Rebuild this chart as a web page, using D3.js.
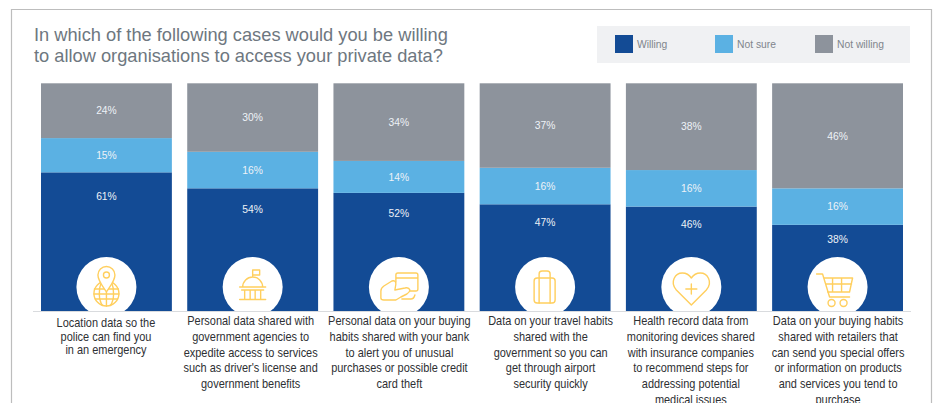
<!DOCTYPE html>
<html>
<head>
<meta charset="utf-8">
<script src="https://cdn.jsdelivr.net/npm/d3@7"></script>
<style>
  html, body { margin: 0; padding: 0; background: #fff; overflow: hidden; }
  svg { display: block; }
  .title { font-family: "Liberation Sans", Arial, sans-serif; font-size: 18.25px; fill: #6e7780; }
  .legend-label { font-family: "Liberation Sans", Arial, sans-serif; font-size: 10.3px; fill: #7f858c; }
  .value { font-family: "Liberation Sans", Arial, sans-serif; font-size: 10.3px; fill: #eef2f7; text-anchor: middle; }
  .caption { font-family: "Liberation Sans", sans-serif; font-size: 12.9px; fill: #2e3033; text-anchor: middle; }
  .icon { fill: none; stroke: #ffcf5e; stroke-width: 1.4; stroke-linejoin: round; stroke-linecap: round; }
</style>
</head>
<body>
<div id="chart"></div>
<script>
'use strict';

const titleLines = [
  'In which of the following cases would you be willing',
  'to allow organisations to access your private data?'
];
const seriesNames = ['Willing', 'Not sure', 'Not willing'];
const seriesColors = ['#134b95', '#5bb1e3', '#8d939c'];

const willing = [61, 54, 52, 47, 46, 38];
const notSure = [15, 16, 14, 16, 16, 16];
const notWilling = [24, 30, 34, 37, 38, 46];

const captions = [
  ['Location data so the', 'police can find you', 'in an emergency'],
  ['Personal data shared with', 'government agencies to', 'expedite access to services', "such as driver's license and", 'government benefits'],
  ['Personal data on your buying', 'habits shared with your bank', 'to alert you of unusual', 'purchases or possible credit', 'card theft'],
  ['Data on your travel habits', 'shared with the', 'government so you can', 'get through airport', 'security quickly'],
  ['Health record data from', 'monitoring devices shared', 'with insurance companies', 'to recommend steps for', 'addressing potential', 'medical issues'],
  ['Data on your buying habits', 'shared with retailers that', 'can send you special offers', 'or information on products', 'and services you tend to', 'purchase']
];

const width = 935;
const height = 403;

const svg = d3.select('#chart')
  .append('svg')
  .attr('width', width)
  .attr('height', height);

// outer frame
svg.append('path')
  .attr('d', 'M11.5,403V9.5H931.5V403')
  .attr('fill', 'none')
  .attr('stroke', '#bdbdbd')
  .attr('stroke-width', 1.2);

// title
svg.append('g').selectAll('text')
  .data(titleLines)
  .join('text')
  .attr('class', 'title')
  .attr('x', 34)
  .attr('y', (d, i) => 41 + i * 21)
  .text(d => d);

// legend
svg.append('rect')
  .attr('x', 597).attr('y', 26)
  .attr('width', 313).attr('height', 37)
  .attr('fill', '#f0f1f3');

const legendX = d3.scaleLinear().domain([0, 1]).range([615, 715]);
const legend = svg.append('g').selectAll('g')
  .data(seriesNames)
  .join('g')
  .attr('transform', (d, i) => `translate(${legendX(i)},35)`);

legend.append('rect')
  .attr('width', 18).attr('height', 18)
  .attr('fill', (d, i) => seriesColors[i]);

legend.append('text')
  .attr('class', 'legend-label')
  .attr('x', 22).attr('y', 13)
  .text(d => d);

// scales
const x = d3.scaleBand()
  .domain(d3.range(willing.length))
  .range([41, 903])
  .paddingInner(0.105);

const y = d3.scaleLinear().domain([0, 100]).range([311.6, 83.3]);

const stackData = willing.map((d, i) => ({ willing: d, notSure: notSure[i], notWilling: notWilling[i] }));
const stacked = d3.stack().keys(['willing', 'notSure', 'notWilling'])(stackData);

// bars
const layers = svg.append('g').selectAll('g')
  .data(stacked)
  .join('g')
  .attr('fill', (d, i) => seriesColors[i]);

layers.selectAll('rect')
  .data(d => d.map((v, i) => ({ v, i })))
  .join('rect')
  .attr('x', d => x(d.i))
  .attr('width', x.bandwidth())
  .attr('y', d => y(d.v[1]))
  .attr('height', d => y(d.v[0]) - y(d.v[1]));

// value labels: the willing figure sits near the top of its segment, to clear the icon
layers.selectAll('text')
  .data((d, k) => d.map((v, i) => ({ v, i, k })))
  .join('text')
  .attr('class', 'value')
  .attr('x', d => x(d.i) + x.bandwidth() / 2)
  .attr('y', d => {
    const top = y(d.v[1]);
    const h = y(d.v[0]) - top;
    return (d.k === 0 ? top + h * 0.17 : top + h / 2) + 3.8;
  })
  .text(d => `${d.v[1] - d.v[0]}%`);

// icons
const iconDraw = [
  // globe and pin
  g => {
    g.append('circle').attr('cy', 6.5).attr('r', 12.5);
    g.append('path').attr('d', 'M-12,2H12M-12.5,7H12.5M-11,12H11M-5,-5C-8,2 -8,13 -4,18.5M5,-5C8,2 8,13 4,18.5M0,5V19');
    g.append('path').attr('d', 'M0,5C-3,0 -8.5,-6 -8.5,-12A8.5,8.5 0 0 1 8.5,-12C8.5,-6 3,0 0,5Z').attr('fill', '#fff');
    g.append('circle').attr('cy', -12).attr('r', 3);
  },
  // government building
  g => {
    g.append('path').attr('d', 'M-10,0A10,10 0 0 1 10,0M-13,0H13M-11,3H11M-8,3V12M-2.5,3V12M2.5,3V12M8,3V12M-13,12.5H13M0,-10V-17H7V-12H0');
  },
  // hand and card
  g => {
    g.append('path').attr('d', 'M-3,-5V-12Q-3,-14 -1,-14H17Q19,-14 19,-12V2Q19,4 17,4H11M-3,-9H19');
    g.append('path').attr('d', 'M-18,11V4Q-18,1 -15,-1L-7,-6Q-3,-7 -3,-3L-4,3L6,1Q10,0 11,3Q11,5 8,7L2,10L-3,13H-15Q-18,13 -18,11ZM3,12H12Q15,12 16,8');
  },
  // luggage
  g => {
    g.append('rect').attr('x', -11).attr('y', -9).attr('width', 21).attr('height', 25).attr('rx', 3);
    g.append('path').attr('d', 'M-6,-9V-13Q-6,-16 -3,-16H2Q5,-16 5,-13V-9M-6,-9V16M5,-9V16');
  },
  // heart with cross
  g => {
    g.append('path').attr('d', 'M0,18L-15,3C-22,-5 -16,-14 -9,-14C-5,-14 -2,-12 0,-9C2,-12 5,-14 9,-14C16,-14 22,-5 15,3Z');
    g.append('path').attr('d', 'M0,-3V7M-5.5,2H5.5');
  },
  // shopping cart
  g => {
    g.append('path').attr('d', 'M-21,-13H-15L-8,10H12M-14,-9H15L12,5H-10M-12,-3H14M-5,-9V5M4,-9V5');
    g.append('circle').attr('cx', -6).attr('cy', 16).attr('r', 3.5);
    g.append('circle').attr('cx', 6).attr('cy', 16).attr('r', 3.5);
  }
];

// nudge of each caption from its bar centre
const captionNudge = [-0.5, -2, 0.5, 5.5, -0.5, 0.5];

const badges = svg.append('g').selectAll('g')
  .data(d3.range(willing.length))
  .join('g')
  .attr('transform', i => `translate(${x(i) + x.bandwidth() / 2},287)`);

badges.append('circle')
  .attr('r', 30)
  .attr('fill', '#fff');

badges.append('g')
  .attr('class', 'icon')
  .each(function(i) { iconDraw[i](d3.select(this)); });

// baseline
svg.append('line')
  .attr('x1', 33).attr('x2', 911)
  .attr('y1', 311.5).attr('y2', 311.5)
  .attr('stroke', '#d9dbde')
  .attr('stroke-width', 1);

// captions, squeezed because no condensed face is installed
const captionGroups = svg.append('g').selectAll('g')
  .data(captions)
  .join('g')
  .attr('transform', (d, i) => `translate(${x(i) + x.bandwidth() / 2 + captionNudge[i]},0)`);

captionGroups.selectAll('text')
  .data((d, i) => d.map((line, n) => ({ line, n, col: i })))
  .join('text')
  .attr('class', 'caption')
  .attr('transform', d => `translate(0,${d.col === 0 ? 327 + d.n * 13.7 : 325 + d.n * 15.8}) scale(0.85,1)`)
  .text(d => d.line);
</script>
</body>
</html>
